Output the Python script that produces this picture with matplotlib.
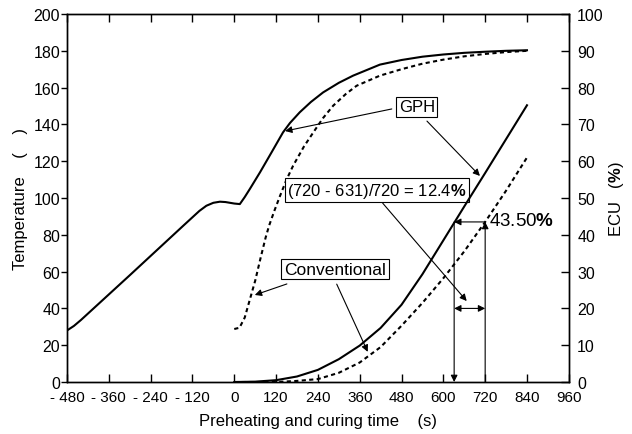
import numpy as np
import matplotlib
matplotlib.use("Agg")
import matplotlib.pyplot as plt

plt.rcParams["font.family"] = ["Liberation Sans", "DejaVu Sans"]
plt.rcParams["mathtext.fontset"] = "custom"
plt.rcParams["mathtext.rm"] = "Liberation Sans"
plt.rcParams["mathtext.bf"] = "Liberation Sans:bold"

# ---------------------------------------------------------------- data
# temperature, GPH (solid)
t_temp_gph = [-480, -460, -440, -300, -146, -100, -80, -60, -41, -25, 0, 16, 30, 45, 74,
              107, 140, 160, 188, 220, 255, 300, 341, 418, 480, 540, 600, 660, 720, 780, 840]
temp_gph = [28, 30.5, 33.7, 58, 85, 93, 95.8, 97.4, 98, 97.8, 97, 96.7, 100.5, 105, 114,
            124.8, 135.7, 140.8, 146.6, 152.2, 157.4, 162.6, 166.5, 172.5, 175, 176.8, 178,
            178.9, 179.5, 180, 180.3]
# temperature, conventional (dashed)
t_temp_conv = [0, 15, 30, 45, 60, 75, 90, 100, 115, 131, 150, 169, 200, 227, 255, 284,
               320, 351, 418, 480, 540, 600, 660, 720, 780, 840]
temp_conv = [28.8, 29.5, 35, 45, 55, 67, 78.5, 85, 93, 101, 110, 117.6, 128, 135.7, 143.5,
             150.2, 156.5, 161, 166.5, 170, 173, 175.2, 177, 178.3, 179.3, 180]
# ECU, GPH (solid) and conventional (dashed)
t_ecu = [0, 60, 120, 180, 240, 300, 360, 420, 480, 540, 600, 660, 720, 780, 840]
ecu_gph = [0, 0.1, 0.5, 1.5, 3.3, 6.2, 9.9, 14.7, 21, 29.3, 38.5, 47.7, 56.8, 66, 75.2]
ecu_conv = [0, 0, 0, 0.3, 0.8, 2.5, 5.3, 9.5, 15.3, 21.5, 28.2, 35.5, 43.5, 52, 61]

x_ticks = [-480, -360, -240, -120, 0, 120, 240, 360, 480, 600, 720, 840, 960]
x_ticklabels = ["- 480", "- 360", "- 240", "- 120", "0", "120", "240", "360",
                "480", "600", "720", "840", "960"]
t_gph_cure, t_conv_cure, ecu_mark = 631, 720, 43.5

# ---------------------------------------------------------------- plot
fig = plt.figure(figsize=(6.32, 4.35), dpi=100)
ax = fig.add_axes([0.106, 0.1195, 0.794, 0.846])
ax2 = ax.twinx()

ax.plot(t_temp_gph, temp_gph, color="black", lw=1.5)
ax.plot(t_temp_conv, temp_conv, color="black", lw=1.5, dashes=(2, 1.6))
ax2.plot(t_ecu, ecu_gph, color="black", lw=1.5)
ax2.plot(t_ecu, ecu_conv, color="black", lw=1.5, dashes=(2, 1.6))

ax.set_xlim(-480, 960)
ax.set_ylim(0, 200)
ax2.set_ylim(0, 100)
ax.set_xticks(x_ticks)
ax.set_xticklabels(x_ticklabels)
ax.set_yticks(range(0, 201, 20))
ax2.set_yticks(range(0, 101, 10))

ax.tick_params(axis="x", direction="in", length=6, width=1, top=True, labelsize=11, pad=6)
ax.tick_params(axis="y", direction="out", length=4, width=1, labelsize=11.5, pad=1)
ax2.tick_params(axis="y", direction="in", length=6, width=1, labelsize=11.5, pad=6)
for a in (ax, ax2):
    for s in a.spines.values():
        s.set_linewidth(1)

ax.set_xlabel("Preheating and curing time    (s)", fontsize=12, labelpad=6)
ax.set_ylabel("Temperature    (    )", fontsize=12, labelpad=4)
ax2.set_ylabel(r"ECU   ($\mathbf{\%}$)", fontsize=12, labelpad=2)

box = dict(boxstyle="square,pad=0.15", fc="white", ec="black", lw=0.8)
arrow = dict(arrowstyle="-|>", color="black", lw=0.8, mutation_scale=10, shrinkA=0, shrinkB=0)

# GPH label with arrows to both GPH curves
ax.text(524, 149.5, "GPH", fontsize=12, ha="center", va="center", bbox=box)
ax.annotate("", xy=(146, 136.4), xytext=(452, 148.4), arrowprops=arrow)
ax.annotate("", xy=(705, 112), xytext=(553, 141.8), arrowprops=arrow)

# Conventional label with arrows to both conventional curves
ax.text(289, 61.4, "Conventional", fontsize=12.5, ha="center", va="center", bbox=box)
ax.annotate("", xy=(59, 47.3), xytext=(151, 53.3), arrowprops=arrow)
ax2.annotate("", xy=(383, 8.2), xytext=(294, 26.6), arrowprops=arrow)

# curing time reduction
ax.text(409, 104.3, r"(720 - 631)/720 = 12.4$\mathbf{\%}$", fontsize=12, ha="center",
        va="center", bbox=box)
ax2.annotate("", xy=(667, 22), xytext=(426, 48.6), arrowprops=arrow)
ax2.annotate("", xy=(t_gph_cure, 20), xytext=(t_conv_cure, 20),
             arrowprops=dict(arrowstyle="<|-|>", color="black", lw=0.8, mutation_scale=10,
                             shrinkA=0, shrinkB=0))
ax2.annotate("", xy=(t_gph_cure, 0), xytext=(t_gph_cure, ecu_mark), arrowprops=arrow)
ax2.annotate("", xy=(t_conv_cure, ecu_mark), xytext=(t_conv_cure, 0), arrowprops=arrow)
ax2.annotate("", xy=(t_gph_cure, ecu_mark), xytext=(t_conv_cure, ecu_mark), arrowprops=arrow)
ax2.text(732, ecu_mark + 0.5, r"43.50$\mathbf{\%}$", fontsize=13.5, ha="left", va="center")

fig.savefig("out.png", dpi=100)
